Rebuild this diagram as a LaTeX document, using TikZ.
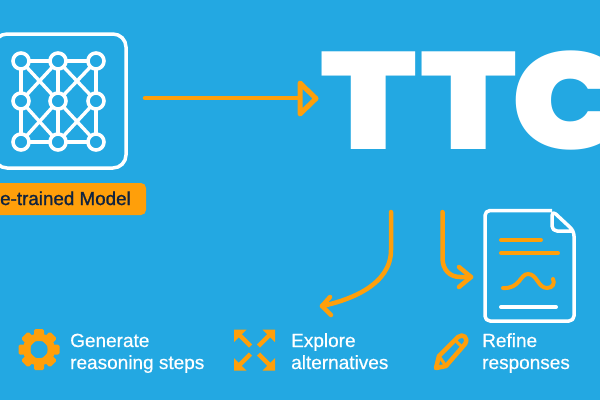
\documentclass[tikz,border=0pt]{standalone}
\usepackage{fontspec}
\setmainfont{Liberation Sans}[RawFeature={embolden=0.5}]
\newfontfamily\labelfont{Liberation Sans}[RawFeature={embolden=1.2}]
\newfontfamily\ttcfont{Poppins Black}[LetterSpace=2.2]
\usepackage{xcolor}
\definecolor{skyback}{HTML}{23A8E2}
\definecolor{amberline}{HTML}{FF9F0A}
\definecolor{labelink}{HTML}{10233F}
\tikzset{
  netnode/.style={circle,draw=white,fill=skyback,line width=3.6pt,minimum size=16pt,inner sep=0pt},
  netedge/.style={draw=white,line width=3.4pt},
  flowline/.style={draw=amberline,line width=4.5pt,line cap=round,line join=round},
  docline/.style={line width=4pt,line cap=round},
  caption/.style={text=white,font=\fontsize{19}{22}\selectfont,align=left,anchor=base west,inner sep=0pt},
}
\begin{document}
\begin{tikzpicture}[x=1pt,y=-1pt]
  \clip (0,0) rectangle (600,400);
  \fill[skyback] (0,0) rectangle (600,400);
  % model box and its network
  \draw[white,line width=3.5pt,rounded corners=13pt] (-6,34) rectangle (126,168);
  \foreach \col/\xpos in {0/21,1/58,2/96}
    \foreach \row/\ypos in {0/61,1/101,2/142}
      \coordinate (n\col\row) at (\xpos,\ypos);
  \foreach \a/\b in {n00/n10,n10/n20,n02/n12,n12/n22,n00/n01,n01/n02,n10/n11,n11/n12,n20/n21,n21/n22,
      n00/n11,n10/n01,n10/n21,n20/n11,n01/n12,n11/n02,n11/n22,n21/n12}
    \draw[netedge] (\a) -- (\b);
  \foreach \col in {0,1,2}
    \foreach \row in {0,1,2}
      \node[netnode] (m\col\row) at (n\col\row) {};
  % label
  \fill[amberline,rounded corners=5pt] (-20,183) rectangle (146,215);
  \node[text=labelink,anchor=base east,inner sep=0pt,font=\fontsize{18.8}{20}\labelfont] (pretrained) at (131,205) {Pre-trained Model};
  % big title
  \node[text=white,anchor=base west,inner sep=0pt,xscale=1.138,font=\fontsize{138}{138}\ttcfont] (ttc) at (320,149) {TT\kern-5.4pt C};
  \coordinate (arrowstart) at (145,98);
  \coordinate (arrowtip) at (316,98.5);
  \draw[flowline] (arrowstart) -- (300,98);
  \draw[flowline,line width=5pt] (300,83) -- (arrowtip) -- (300,114) -- cycle;
  % curved arrows
  \coordinate (leftstart) at (391,212);
  \coordinate (lefttip) at (322,306);
  \draw[flowline] (leftstart) -- (391,250) .. controls (391,285) and (350,300) .. (lefttip);
  \draw[flowline] (330,297) -- (lefttip) -- (331,315);
  \coordinate (rightstart) at (442.5,212);
  \coordinate (righttip) at (471,277);
  \draw[flowline] (rightstart) -- (442.5,258) .. controls (442.5,270) and (450,277) .. (460,277) -- (righttip);
  \draw[flowline] (459,267) -- (righttip) -- (459,287);
  % document
  \draw[white,line width=3.5pt,line join=round,rounded corners=5pt] (552,210.5) -- (485,210.5) -- (485,321) -- (574,321) -- (574,231) -- (552,210.5) -- (552,231) -- (574,231);
  \draw[docline,amberline] (501,240) -- (541,240);
  \draw[docline,amberline] (501,253) -- (558,253);
  \draw[docline,amberline] (503,288) .. controls (520,289) and (520,274) .. (528,274) .. controls (537,274) and (538,288) .. (547,288) .. controls (553,288) and (555,283) .. (553,279);
  \draw[docline,white] (501,307) -- (556,307);
  % gear
  \foreach \ang in {0,45,...,315}
    \fill[amberline,rounded corners=1.5pt,rotate around={\ang:(39,349.5)}] (34,329) rectangle (44,341);
  \draw[amberline,line width=7pt] (39,349.5) circle (12.5pt);
  \node[caption] (generate) at (70,369) {Generate\\reasoning steps};
  % expand arrows
  \foreach \sx/\sy in {-1/-1,1/-1,-1/1,1/1}{
    \draw[amberline,line width=4.5pt,shift={(254.5,350)},xscale=\sx,yscale=\sy] (4,4) -- (15,15);
    \fill[amberline,shift={(254.5,350)},xscale=\sx,yscale=\sy] (20.5,20.5) -- (20.5,8) -- (8,20.5) -- cycle;
  }
  \node[caption] (explore) at (291,369) {Explore\\alternatives};
  % pencil
  \begin{scope}[amberline,line width=4.5pt,line join=round,shift={(434,370)}]
    \draw (2,-2) -- (5,-14) -- (24,-33) .. controls (29,-37) and (35,-32) .. (31,-26) -- (12,-4) -- cycle;
    \draw[line width=3pt] (5,-14) -- (12,-4) (21,-30) -- (28,-23);
  \end{scope}
  \node[caption] (refine) at (482,369) {Refine\\responses};
\end{tikzpicture}
\end{document}
